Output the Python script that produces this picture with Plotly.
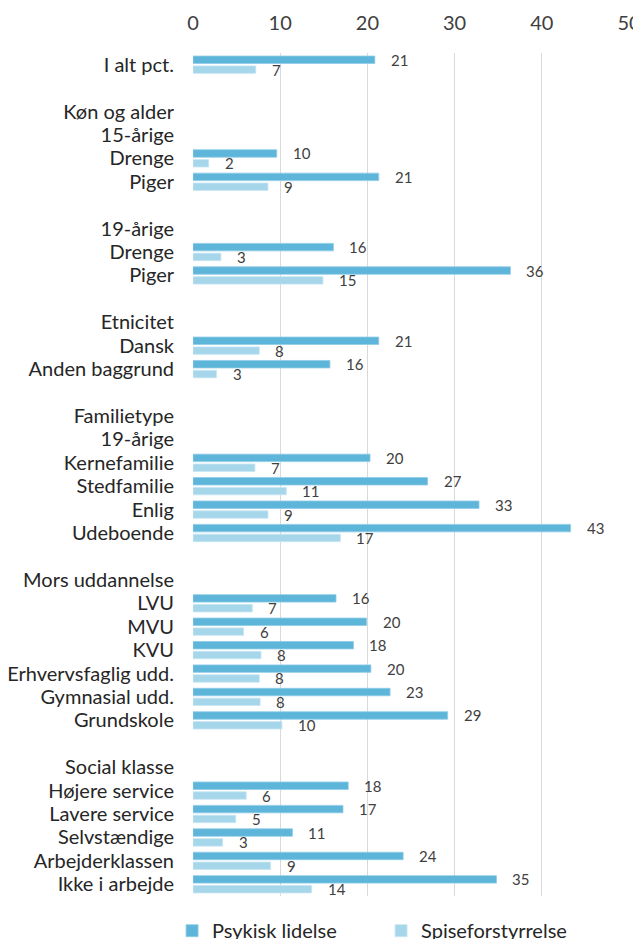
import plotly.graph_objects as go

categories = [
    "I alt pct.", "", "Køn og alder", "15-årige", "Drenge", "Piger", "",
    "19-årige", "Drenge", "Piger", "", "Etnicitet", "Dansk", "Anden baggrund", "",
    "Familietype", "19-årige", "Kernefamilie", "Stedfamilie", "Enlig", "Udeboende", "",
    "Mors uddannelse", "LVU", "MVU", "KVU", "Erhvervsfaglig udd.", "Gymnasial udd.", "Grundskole", "",
    "Social klasse", "Højere service", "Lavere service", "Selvstændige", "Arbejderklassen", "Ikke i arbejde",
]
N = None
psykisk = [
    20.85, N, N, N, 9.6, 21.3, N,
    N, 16.1, 36.4, N, N, 21.3, 15.7, N,
    N, N, 20.3, 26.9, 32.8, 43.3, N,
    N, 16.4, 19.9, 18.4, 20.4, 22.6, 29.2, N,
    N, 17.8, 17.2, 11.4, 24.1, 34.8,
]
spise = [
    7.2, N, N, N, 1.8, 8.6, N,
    N, 3.2, 14.9, N, N, 7.6, 2.7, N,
    N, N, 7.1, 10.7, 8.6, 16.9, N,
    N, 6.8, 5.8, 7.8, 7.6, 7.7, 10.2, N,
    N, 6.1, 4.9, 3.4, 8.9, 13.6,
]
series_names = ["Psykisk lidelse", "Spiseforstyrrelse"]
xticks = [0, 10, 20, 30, 40, 50]

C_P = "#5DB5DA"
C_S = "#A6D6EA"
FONT = "Lato"

rows = list(range(len(categories)))

fig = go.Figure()
fig.add_trace(go.Bar(y=rows, x=psykisk, orientation="h", name=series_names[0],
                     marker=dict(color=C_P, line=dict(color="#8FCBE6", width=0.8))))
fig.add_trace(go.Bar(y=rows, x=spise, orientation="h", name=series_names[1],
                     marker=dict(color=C_S, line=dict(color="#C8E6F2", width=0.8))))

annotations = []
for i, (p, s) in enumerate(zip(psykisk, spise)):
    for v, off in ((p, -0.21), (s, 0.21)):
        if v is None:
            continue
        annotations.append(dict(x=v, y=i + off, xref="x", yref="y", text=f"{v:.0f}",
                                showarrow=False, xanchor="left", yanchor="middle", xshift=14,
                                font=dict(family=FONT, size=15, color="#404040")))

fig.update_layout(
    width=641, height=939,
    margin=dict(l=185, r=20, t=45, b=51, autoexpand=False),
    paper_bgcolor="white", plot_bgcolor="white",
    barmode="group", bargap=0.16, bargroupgap=0.24,
    font=dict(family=FONT, size=20, color="#262626"),
    annotations=annotations,
    showlegend=True,
    legend=dict(orientation="h", x=-0.048, xanchor="left", y=-0.018, yanchor="top",
                font=dict(family=FONT, size=20, color="#262626"),
                entrywidth=164, entrywidthmode="pixels", traceorder="normal",
                itemwidth=30),
)
fig.update_xaxes(side="top", range=[0, 50], tickvals=xticks, showgrid=True,
                 gridcolor="#D9D9D9", gridwidth=1, zeroline=False, showline=False,
                 ticks="", ticklabelstandoff=18,
                 tickfont=dict(family=FONT, size=20, color="#404040"),
                 fixedrange=True)
fig.update_yaxes(autorange=False, range=[len(categories) - 0.5, -0.5],
                 tickvals=rows, ticktext=categories, showgrid=False, zeroline=False,
                 showline=False, ticks="", ticklabelstandoff=18,
                 tickfont=dict(family=FONT, size=20, color="#262626"))
fig.write_html("out.html")
